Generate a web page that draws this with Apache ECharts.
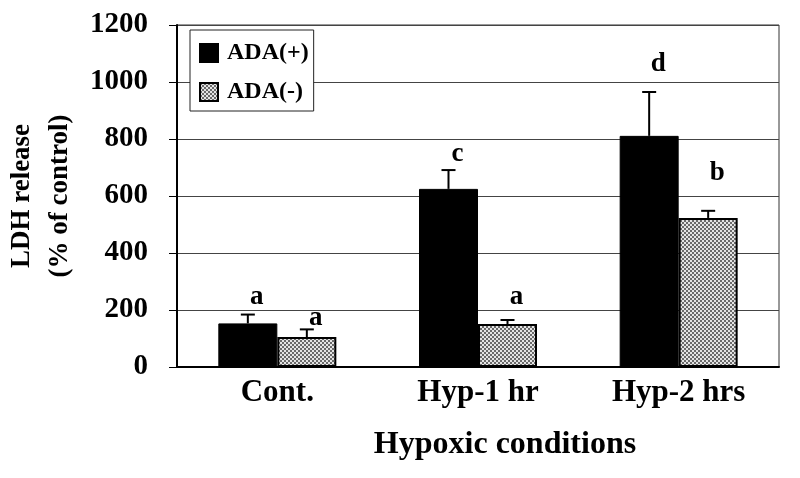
<!DOCTYPE html>
<html>
<head>
<meta charset="utf-8">
<title>LDH release</title>
<script src="https://cdn.jsdelivr.net/npm/echarts@6/dist/echarts.min.js"></script>
<style>
  html, body { margin: 0; padding: 0; background: #fff; }
  #chart { width: 800px; height: 478px; }
</style>
</head>
<body>
<div id="chart"></div>
<script>
// data
const categories = ["Cont.", "Hyp-1 hr", "Hyp-2 hrs"];
const adaPlus     = [153, 625, 811];
const adaPlusErr  = [31, 66, 154];
const adaMinus    = [105, 151, 523];
const adaMinusErr = [27, 14, 25];
const plusLetters  = ["a", "c", "d"];
const minusLetters = ["a", "a", "b"];
// height (in % of control) where each significance letter sits
const plusLetterAt  = [246, 747, 1063];
const minusLetterAt = [172, 246, 681];
const yTicks = [0, 200, 400, 600, 800, 1000, 1200];

const FONT = "'Liberation Serif', 'Times New Roman', serif";
const BAR_W = 59;

// stippled grey fill like the printed figure
function stipple() {
  const c = document.createElement("canvas");
  c.width = 4; c.height = 4;
  const g = c.getContext("2d");
  g.fillStyle = "#e4e4e4";
  g.fillRect(0, 0, 4, 4);
  g.fillStyle = "#6a6a6a";
  g.fillRect(0, 0, 2, 2);
  g.fillRect(2, 2, 2, 2);
  return c;
}
const grey = { image: stipple(), repeat: "repeat" };

const chart = echarts.init(document.getElementById("chart"));

// error whisker + letter, drawn on top of each bar
function errorSeries(name, vals, errs, letters, letterAt, side) {
  return {
    name: name + " err",
    type: "custom",
    z: 5,
    data: vals.map((v, i) => [i, v, v + errs[i], letterAt[i]]),
    renderItem: (params, api) => {
      const x = api.coord([api.value(0), 0])[0] + side * BAR_W / 2;
      const yTop = api.coord([0, api.value(1)])[1];
      const yErr = api.coord([0, api.value(2)])[1];
      const yLet = api.coord([0, api.value(3)])[1];
      const st = { stroke: "#000", lineWidth: 2 };
      return {
        type: "group",
        children: [
          { type: "line", shape: { x1: x, y1: yTop, x2: x, y2: yErr }, style: st },
          { type: "line", shape: { x1: x - 7, y1: yErr, x2: x + 7, y2: yErr }, style: st },
          {
            type: "text",
            x: x + 9, y: yLet,
            style: {
              text: letters[params.dataIndex],
              font: "bold 27px " + FONT,
              fill: "#000",
              align: "center",
              verticalAlign: "middle"
            }
          }
        ]
      };
    }
  };
}

const option = {
  animation: false,
  backgroundColor: "#fff",
  textStyle: { fontFamily: FONT },
  grid: {
    left: 177, right: 21, top: 25, bottom: 111,
    outerBoundsMode: "none",
    containLabel: false,
    show: true, borderColor: "#333", borderWidth: 1
  },
  legend: {
    data: ["ADA(+)", "ADA(-)"],
    orient: "vertical",
    left: 190, top: 30,
    icon: "rect",
    itemWidth: 18, itemHeight: 18, itemGap: 15,
    padding: [11, 5, 7, 9],
    backgroundColor: "#fff",
    borderColor: "#222", borderWidth: 1,
    textStyle: { fontFamily: FONT, fontWeight: "bold", fontSize: 24, color: "#000", padding: [0, 0, 0, 4] }
  },
  xAxis: {
    type: "category",
    data: categories,
    axisLine: { lineStyle: { color: "#000", width: 2 } },
    axisTick: { show: false },
    axisLabel: { fontFamily: FONT, fontWeight: "bold", fontSize: 31, color: "#000", margin: 10 },
    name: "Hypoxic conditions",
    nameLocation: "middle",
    nameGap: 62,
    nameTextStyle: { fontFamily: FONT, fontWeight: "bold", fontSize: 32, color: "#000", padding: [0, 0, 0, 54] }
  },
  yAxis: {
    type: "value",
    min: yTicks[0], max: yTicks[yTicks.length - 1], interval: 200,
    axisLine: { show: true, lineStyle: { color: "#000", width: 2 } },
    axisTick: { show: true, inside: false, length: 8, lineStyle: { color: "#000" } },
    axisLabel: {
      fontFamily: FONT, fontWeight: "bold", fontSize: 29, color: "#000", margin: 29,
      formatter: (v) => String(v)
    },
    splitLine: { show: true, lineStyle: { color: "#444", width: 1 } },
    name: "LDH release\n(% of control)",
    nameLocation: "middle",
    nameGap: 91,
    nameTextStyle: { fontFamily: FONT, fontWeight: "bold", fontSize: 27, color: "#000", lineHeight: 38 }
  },
  series: [
    {
      name: "ADA(+)", type: "bar", data: adaPlus,
      barWidth: BAR_W, barGap: "0%",
      itemStyle: { color: "#000", borderColor: "#000", borderWidth: 1 }
    },
    {
      name: "ADA(-)", type: "bar", data: adaMinus,
      barWidth: BAR_W,
      itemStyle: { color: grey, borderColor: "#000", borderWidth: 2 }
    },
    errorSeries("ADA(+)", adaPlus, adaPlusErr, plusLetters, plusLetterAt, -1),
    errorSeries("ADA(-)", adaMinus, adaMinusErr, minusLetters, minusLetterAt, 1)
  ]
};

chart.setOption(option);
</script>
</body>
</html>
